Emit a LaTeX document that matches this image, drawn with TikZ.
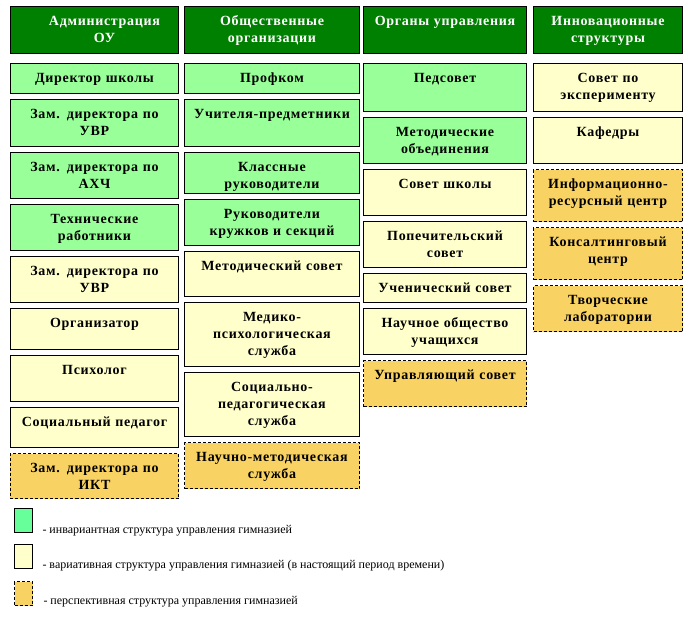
\documentclass[tikz,border=0pt]{standalone}
\usepackage{fontspec}
\setmainfont{Liberation Serif}
\newfontfamily\cellfont[LetterSpace=5]{Liberation Serif}
\usetikzlibrary{matrix}

\definecolor{hdgreen}{HTML}{008000}
\definecolor{invgreen}{HTML}{99FF99}
\definecolor{varyellow}{HTML}{FFFFCC}
\definecolor{perorange}{HTML}{F9D264}
\definecolor{keygreen}{HTML}{66FF99}

\begin{document}
\begin{tikzpicture}[x=1pt, y=1pt, line width=1pt,
  cell/.style={draw, align=center, inner xsep=2pt, inner ysep=3pt, text height=16pt,
    font=\cellfont\bfseries\fontsize{14}{17}\selectfont},
  boxh/.style={text depth=#1pt-22pt},
  head/.style={cell, fill=hdgreen, text=white},
  inv/.style={cell, fill=invgreen},
  var/.style={cell, fill=varyellow},
  pers/.style={cell, fill=perorange, dash pattern=on 3pt off 2pt},
  stack/.style={matrix of nodes, inner sep=0pt, row sep=5pt, anchor=north west},
  key/.style={draw, minimum width=18pt, minimum height=24pt, inner sep=0pt, anchor=north west},
  keytext/.style={anchor=base west, inner sep=0pt, font=\fontsize{12}{14}\selectfont}]
\useasboundingbox (0,0) rectangle (690,-635);

% administration
\matrix (adm) [stack, nodes={text width=164pt}] at (9.5,-5.5) {
\node[head, boxh=47](adm0){\hspace*{20pt}Администрация\\\hspace*{20pt}ОУ}; \\[4pt]
\node[inv, boxh=30](adm1){Директор школы}; \\
\node[inv, boxh=47](adm2){Зам. директора по\\УВР}; \\
\node[inv, boxh=46](adm3){Зам. директора по\\АХЧ}; \\
\node[inv, boxh=46](adm4){Технические\\работники}; \\
\node[var, boxh=46](adm5){Зам. директора по\\УВР}; \\
\node[var, boxh=41](adm6){Организатор}; \\
\node[var, boxh=46](adm7){Психолог}; \\
\node[var, boxh=40](adm8){Социальный педагог}; \\
\node[pers, boxh=45](adm9){Зам. директора по\\ИКТ}; \\
};

% public organisations
\matrix (pub) [stack, nodes={text width=171pt}] at (183.5,-5.5) {
\node[head, boxh=47](pub0){Общественные\\организации}; \\[4pt]
\node[inv, boxh=30](pub1){Профком}; \\
\node[inv, boxh=47](pub2){Учителя-предметники}; \\
\node[inv, boxh=41](pub3){Классные\\руководители}; \\
\node[inv, boxh=46](pub4){Руководители\\кружков и секций}; \\
\node[var, boxh=45](pub5){Методический совет}; \\
\node[var, boxh=64](pub6){Медико-\\психологическая\\служба}; \\
\node[var, boxh=64](pub7){Социально-\\педагогическая\\служба}; \\
\node[pers, boxh=46](pub8){Научно-методическая\\служба}; \\
};

% governing bodies
\matrix (gov) [stack, nodes={text width=159pt}] at (362.5,-5.5) {
\node[head, boxh=47](gov0){Органы управления}; \\[4pt]
\node[inv, boxh=48](gov1){Педсовет}; \\
\node[inv, boxh=46](gov2){Методические\\объединения}; \\
\node[var, boxh=46](gov3){Совет школы}; \\
\node[var, boxh=46](gov4){Попечительский\\совет}; \\
\node[var, boxh=29](gov5){Ученический совет}; \\
\node[var, boxh=46](gov6){Научное общество\\учащихся}; \\
\node[pers, boxh=46](gov7){Управляющий совет}; \\
};

% innovation
\matrix (inn) [stack, nodes={text width=145pt}] at (532.5,-5.5) {
\node[head, boxh=47](inn0){Инновационные\\структуры}; \\[4pt]
\node[var, boxh=48](inn1){Совет по\\эксперименту}; \\
\node[var, boxh=46](inn2){Кафедры}; \\
\node[pers, boxh=52](inn3){Информационно-\\ресурсный центр}; \\
\node[pers, boxh=52](inn4){Консалтинговый\\центр}; \\
\node[pers, boxh=46](inn5){Творческие\\лаборатории}; \\
};

% legend
\node[key, fill=keygreen] (key1) at (14,-508) {};
\node[key, fill=varyellow] (key2) at (14,-544) {};
\node[key, fill=perorange, dash pattern=on 3pt off 2pt] (key3) at (14,-581) {};
\node[keytext] (lab1) at (42,-533) {- инвариантная структура управления гимназией};
\node[keytext] (lab2) at (42,-568) {- вариативная структура управления гимназией (в настоящий период времени)};
\node[keytext] (lab3) at (43,-604) {- перспективная структура управления гимназией};
\end{tikzpicture}
\end{document}
